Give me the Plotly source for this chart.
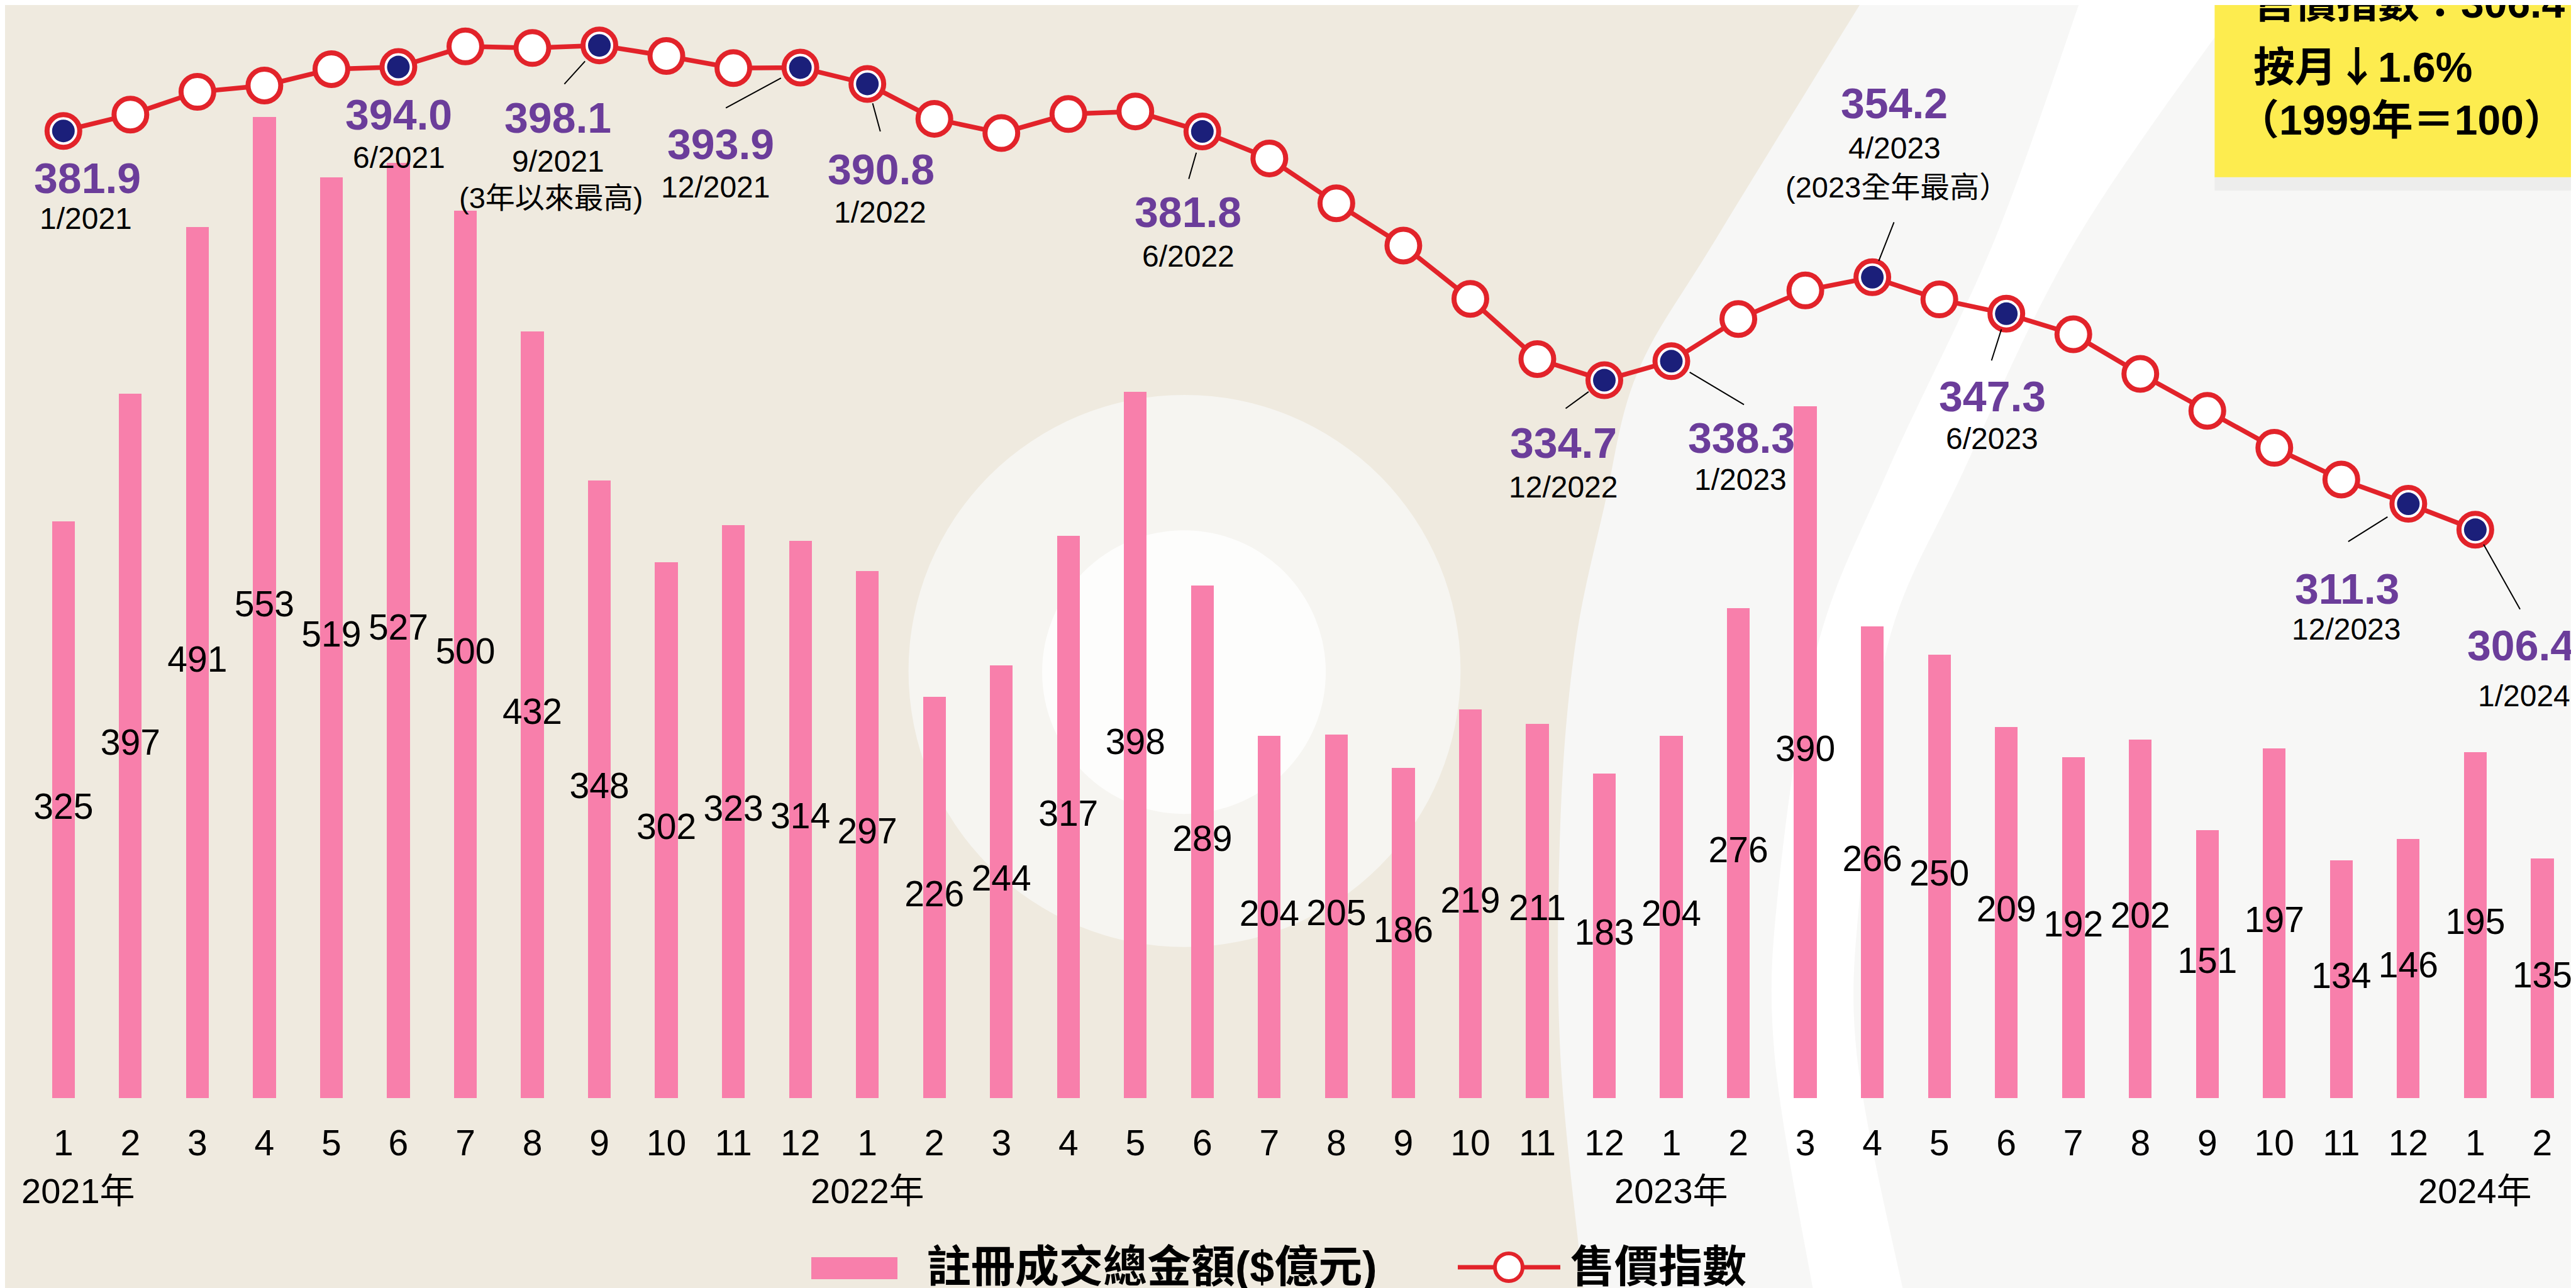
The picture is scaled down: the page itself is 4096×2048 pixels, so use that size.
import plotly.graph_objects as go

# ---------------- data ----------------
months = [str(m) for m in range(1, 13)] * 3 + ["1", "2"]
year_labels = ["2021年", "2022年", "2023年", "2024年"]
year_index = [0, 12, 24, 36]

bar_values = [325, 397, 491, 553, 519, 527, 500, 432, 348, 302, 323, 314,
              297, 226, 244, 317, 398, 289, 204, 205, 186, 219, 211, 183,
              204, 276, 390, 266, 250, 209, 192, 202, 151, 197, 134, 146,
              195, 135]

index_values = [381.9, 385.0, 389.3, 390.5, 393.6, 394.0, 397.9, 397.6, 398.1, 396.1, 393.8, 393.9,
                390.8, 384.2, 381.5, 385.1, 385.6, 381.8, 376.7, 368.2, 360.2, 350.1, 338.7, 334.7,
                338.3, 346.3, 351.7, 354.2, 350.0, 347.3, 343.4, 335.9, 328.9, 321.9, 315.9, 311.3,
                306.4]

highlight_idx = [0, 5, 8, 11, 12, 17, 23, 24, 27, 29, 35, 36]
highlight_dates = ["1/2021", "6/2021", "9/2021", "12/2021", "1/2022", "6/2022",
                   "12/2022", "1/2023", "4/2023", "6/2023", "12/2023", "1/2024"]
highlight_notes = {8: "(3年以來最高)", 27: "(2023全年最高）"}

box_lines = ["售價指數：306.4",
             "按月<span style=\"font-family:'Noto Sans CJK TC'\">↓</span>1.6%",
             "（1999年＝100）"]
legend_bar = "註冊成交總金額($億元)"
legend_line = "售價指數"

# ---------------- styling / geometry ----------------
W, H = 4096, 2048
S = 0.928
MB = 310
PLOT_H = H - MB
BG = "#efeadf"
PINK = "#f87fab"
RED = "#e2232a"
NAVY = "#1b1f7a"
PURPLE = "#6b3d9a"
YELLOW = "#fdec4f"
FONT = "Liberation Sans, Arial, Noto Sans CJK TC, sans-serif"

X_RANGE = [-0.8711, 37.578]
Y_RANGE = [0, 616.0]
Y2_RANGE = [198.79, 405.74]

# label offsets (output px, dx right, dy down) relative to the point
value_off = {0: (38, 75), 5: (1, 75), 8: (-66, 115), 11: (-127, 122), 12: (22, 136),
             17: (-23, 128), 23: (-65, 99), 24: (111, 122), 27: (35, -277),
             29: (-22, 131), 35: (-97, 135), 36: (72, 184)}
date_off = {0: (36, 139), 5: (1, 144), 8: (-66, 184), 11: (-135, 190), 12: (20, 204),
            17: (-22, 198), 23: (-65, 170), 24: (110, 188), 27: (35, -205),
            29: (-23, 199), 35: (-98, 199), 36: (78, 264)}
note_off = {8: (-77, 242), 27: (39, -143)}
# leader lines: tail offset (px) and standoff from point
leader = {8: (-57, 63, 34), 11: (-120, 65, 35), 12: (21, 77, 32), 17: (-22, 77, 35),
          23: (-63, 46, 31), 24: (117, 70, 34), 27: (35, -89, 28), 29: (-24, 76, 26),
          35: (-97, 61, 39), 36: (72, 128, 27)}
box_x = [3573, 3573, 3548]
box_y = [-3, 93, 183]


def P(x_ref, y_ref):
    """reference-pixel -> paper coordinates"""
    return (x_ref * S / W, 1 - y_ref * S / PLOT_H)


def Po(x_out, y_out):
    """output-pixel -> paper coordinates"""
    return (x_out / W, 1 - y_out / PLOT_H)


def smooth(pts, n=14):
    out = []
    for k in range(len(pts) - 1):
        p0 = pts[k - 1] if k > 0 else pts[k]
        p1, p2 = pts[k], pts[k + 1]
        p3 = pts[k + 2] if k + 2 < len(pts) else pts[k + 1]
        for j in range(n):
            t = j / n
            t2, t3 = t * t, t * t * t
            x = 0.5 * ((2 * p1[0]) + (-p0[0] + p2[0]) * t + (2 * p0[0] - 5 * p1[0] + 4 * p2[0] - p3[0]) * t2 + (-p0[0] + 3 * p1[0] - 3 * p2[0] + p3[0]) * t3)
            y = 0.5 * ((2 * p1[1]) + (-p0[1] + p2[1]) * t + (2 * p0[1] - 5 * p1[1] + 4 * p2[1] - p3[1]) * t2 + (-p0[1] + 3 * p1[1] - 3 * p2[1] + p3[1]) * t3)
            out.append((x, y))
    out.append(pts[-1])
    return out


def path(pts_ref):
    pp = [P(x, y) for x, y in pts_ref]
    return "M " + " L ".join(f"{x:.5f},{y:.5f}" for x, y in pp) + " Z"


shapes = []
# light region on the right
boundary = [(3190, -20), (2932, 400), (2797, 630), (2740, 860), (2690, 1100),
            (2665, 1400), (2665, 1800), (2708, 2230)]
shapes.append(dict(type="path", xref="paper", yref="paper", layer="below",
                   path=path(smooth(boundary) + [(4500, 2230), (4500, -20)]),
                   fillcolor="#f7f7f6", line=dict(width=0)))
# white band
left_edge = [(3560, -20), (3410, 400), (3225, 800), (3105, 1100), (3040, 1500), (3032, 1800), (3103, 2230)]
right_edge = [(3840, -20), (3550, 400), (3355, 800), (3225, 1100), (3180, 1500), (3173, 1800), (3258, 2230)]
shapes.append(dict(type="path", xref="paper", yref="paper", layer="below",
                   path=path(smooth(left_edge) + smooth(right_edge)[::-1]),
                   fillcolor="#ffffff", line=dict(width=0)))
# middle circles
for (cx, cy, r, col) in [(2021, 1141, 473, "#f6f5f1"), (2020, 1143, 243, "#fdfdfc")]:
    x0, y0 = P(cx - r, cy + r)
    x1, y1 = P(cx + r, cy - r)
    shapes.append(dict(type="circle", xref="paper", yref="paper", layer="below",
                       x0=x0, x1=x1, y0=y0, y1=y1, fillcolor=col, line=dict(width=0)))
# yellow box + shadow
x0, y0 = P(3786, 318)
x1, y1 = P(4500, 290)
shapes.append(dict(type="rect", xref="paper", yref="paper", layer="below",
                   x0=x0, x1=x1, y0=y0, y1=y1, fillcolor="#ededec", line=dict(width=0)))
x0, y0 = P(3786, 295)
x1, y1 = P(4500, -20)
shapes.append(dict(type="rect", xref="paper", yref="paper", layer="below",
                   x0=x0, x1=x1, y0=y0, y1=y1, fillcolor=YELLOW, line=dict(width=0)))

# legend glyphs
lx0, ly0 = Po(1282, 2026)
lx1, ly1 = Po(1419, 1991)
shapes.append(dict(type="rect", xref="paper", yref="paper", x0=lx0, x1=lx1, y0=ly0, y1=ly1,
                   fillcolor=PINK, line=dict(width=0)))
a = Po(2310, 2007)
b = Po(2473, 2007)
shapes.append(dict(type="line", xref="paper", yref="paper", x0=a[0], y0=a[1], x1=b[0], y1=b[1],
                   line=dict(color=RED, width=7)))
c0 = Po(2391 - 22, 2007 + 22)
c1 = Po(2391 + 22, 2007 - 22)
shapes.append(dict(type="circle", xref="paper", yref="paper", x0=c0[0], y0=c0[1], x1=c1[0], y1=c1[1],
                   fillcolor="white", line=dict(color=RED, width=6)))

# ---------------- traces ----------------
xs_bar = list(range(len(bar_values)))
xs_idx = list(range(len(index_values)))

fig = go.Figure()
fig.add_trace(go.Bar(x=xs_bar, y=bar_values, width=0.34, marker=dict(color=PINK, line=dict(width=0)),
                     name=legend_bar, showlegend=False))
fig.add_trace(go.Scatter(x=xs_bar, y=[v / 2 for v in bar_values], mode="text",
                         text=[str(v) for v in bar_values],
                         textfont=dict(size=57, color="black", family=FONT),
                         textposition="middle center", showlegend=False, cliponaxis=False,
                         hoverinfo="skip"))
fig.add_trace(go.Scatter(x=xs_idx, y=index_values, yaxis="y2", mode="lines+markers",
                         line=dict(color=RED, width=7.5),
                         marker=dict(size=52, color="white", line=dict(color=RED, width=8)),
                         name=legend_line, showlegend=False, cliponaxis=False))
fig.add_trace(go.Scatter(x=highlight_idx, y=[index_values[i] for i in highlight_idx], yaxis="y2",
                         mode="markers", marker=dict(size=36, color=NAVY, line=dict(width=0)),
                         showlegend=False, cliponaxis=False, hoverinfo="skip"))

# ---------------- annotations ----------------
ann = []
for k, i in enumerate(highlight_idx):
    v = index_values[i]
    dx, dy = value_off[i]
    ann.append(dict(x=i, y=v, xref="x", yref="y2", text=f"<b>{v:.1f}</b>", showarrow=False,
                    xshift=dx, yshift=-dy, xanchor="center", yanchor="middle",
                    font=dict(size=68, color=PURPLE, family=FONT)))
    dx, dy = date_off[i]
    ann.append(dict(x=i, y=v, xref="x", yref="y2", text=highlight_dates[k], showarrow=False,
                    xshift=dx, yshift=-dy, xanchor="center", yanchor="middle",
                    font=dict(size=48, color="black", family=FONT)))
    if i in highlight_notes:
        dx, dy = note_off[i]
        ann.append(dict(x=i, y=v, xref="x", yref="y2", text=highlight_notes[i], showarrow=False,
                        xshift=dx, yshift=-dy, xanchor="center", yanchor="middle",
                        font=dict(size=47, color="black", family=FONT)))
    if i in leader:
        tx, ty, so = leader[i]
        ann.append(dict(x=i, y=v, xref="x", yref="y2", text="", showarrow=True, arrowhead=0,
                        arrowwidth=2, arrowcolor="black", ax=tx, ay=ty, axref="pixel", ayref="pixel",
                        standoff=so))

# year labels
for lab, i in zip(year_labels, year_index):
    ann.append(dict(x=i, y=1 - 1885 / PLOT_H, xref="x", yref="paper", text=lab, showarrow=False,
                    xshift=24 if i == 0 else 0, xanchor="center", yanchor="middle",
                    font=dict(size=56, color="black", family=FONT)))

# yellow box text
for txt, xx, yy in zip(box_lines, box_x, box_y):
    ann.append(dict(x=xx / W, y=1 - yy / PLOT_H, xref="paper", yref="paper", text=f"<b>{txt}</b>",
                    showarrow=False, xanchor="left", yanchor="middle",
                    font=dict(size=66, color="black", family=FONT)))

# legend text
ann.append(dict(x=1464 / W, y=1 - 2007 / PLOT_H, xref="paper", yref="paper", text=f"<b>{legend_bar}</b>",
                showarrow=False, xanchor="left", yanchor="middle",
                font=dict(size=70, color="black", family=FONT)))
ann.append(dict(x=2487 / W, y=1 - 2007 / PLOT_H, xref="paper", yref="paper", text=f"<b>{legend_line}</b>",
                showarrow=False, xanchor="left", yanchor="middle",
                font=dict(size=70, color="black", family=FONT)))

fig.update_layout(
    width=W, height=H,
    margin=dict(l=0, r=0, t=0, b=MB, pad=0),
    paper_bgcolor=BG, plot_bgcolor="rgba(0,0,0,0)",
    showlegend=False,
    xaxis=dict(range=X_RANGE, tickmode="array", tickvals=xs_bar, ticktext=months,
               tickfont=dict(size=57, color="black", family=FONT), ticks="",
               ticklabelstandoff=33, showgrid=False, zeroline=False, showline=False, fixedrange=True),
    yaxis=dict(range=Y_RANGE, visible=False, showgrid=False, zeroline=False),
    yaxis2=dict(range=Y2_RANGE, overlaying="y", visible=False, showgrid=False, zeroline=False),
    shapes=shapes,
    annotations=ann,
    bargap=0,
)

fig.write_html("out.html")
